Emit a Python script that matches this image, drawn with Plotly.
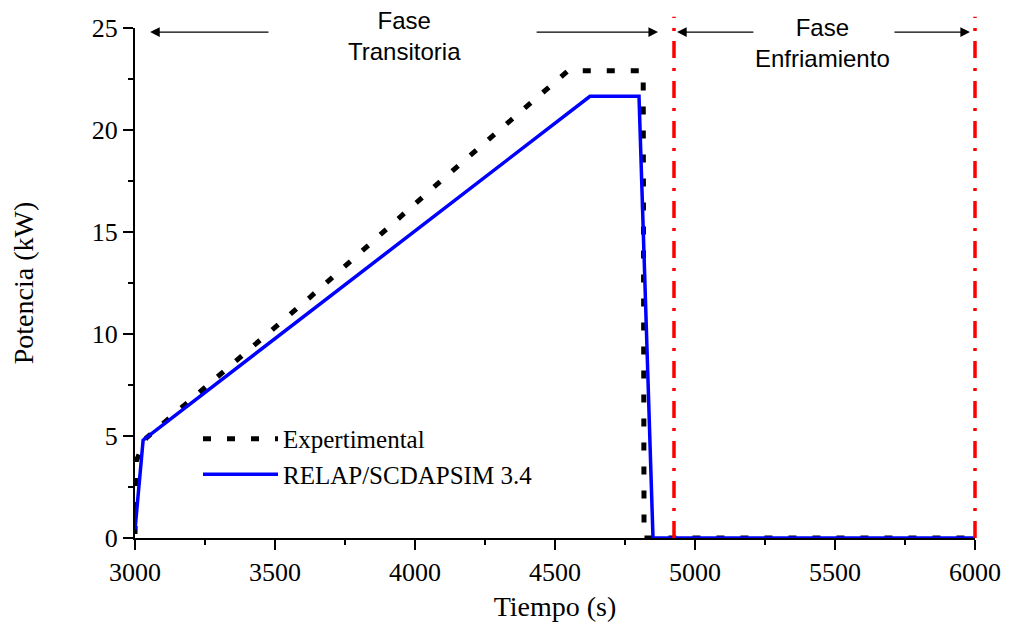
import plotly.graph_objects as go

# Data
exp_t = [3000, 3005, 3040, 3300, 3625, 4100, 4546, 4815, 4818, 6000]
exp_p = [0.2, 3.8, 4.9, 8.0, 11.8, 17.6, 22.9, 22.9, 0.0, 0.0]

sim_t = [3000, 3029, 4625, 4800, 4850, 6000]
sim_p = [0.4, 4.8, 21.65, 21.65, 0.0, 0.0]

phase_bounds = [4925, 6000]

x_ticks = [3000, 3500, 4000, 4500, 5000, 5500, 6000]
y_ticks = [0, 5, 10, 15, 20, 25]
x_range = [3000, 6000]
y_range = [0, 25]

SERIF = "Liberation Serif"
SANS = "Liberation Sans"

fig = go.Figure()
fig.add_trace(go.Scatter(
    x=exp_t, y=exp_p, mode="lines", name="Expertimental",
    line=dict(color="black", width=5, dash="8px,16px"),
))
fig.add_trace(go.Scatter(
    x=sim_t, y=sim_p, mode="lines", name="RELAP/SCDAPSIM 3.4",
    line=dict(color="#0000ff", width=3.5),
))

# Phase boundary lines (paper-referenced so they are not clipped at the axis end)
for xb in phase_bounds:
    xp = (xb - x_range[0]) / (x_range[1] - x_range[0])
    fig.add_shape(type="line", xref="paper", yref="paper", x0=xp, x1=xp,
                  y0=0, y1=1.022,
                  line=dict(color="#ff0000", width=3.5, dash="17px,10px,3px,10px"))

# Phase arrows (tail -> head)
arrows = [(3482, 3054), (4429, 4868), (5214, 4936), (5707, 5982)]
for tail, head in arrows:
    fig.add_annotation(x=head, y=24.8, ax=tail, ay=24.8, xref="x", yref="y",
                       axref="x", ayref="y", text="", showarrow=True,
                       arrowhead=2, arrowsize=1.6, arrowwidth=1.2,
                       arrowcolor="black")

fig.add_annotation(x=3961, y=0.985, xref="x", yref="paper",
                   text="Fase<br>Transitoria", showarrow=False,
                   font=dict(family=SANS, size=24, color="black"),
                   xanchor="center", yanchor="middle")
fig.add_annotation(x=5454, y=0.971, xref="x", yref="paper",
                   text="Fase<br>Enfriamiento", showarrow=False,
                   font=dict(family=SANS, size=24, color="black"),
                   xanchor="center", yanchor="middle")

axis_common = dict(
    showline=True, linewidth=2, linecolor="black", mirror=False,
    ticks="outside", ticklen=10, tickwidth=2, tickcolor="black",
    showgrid=False, zeroline=False,
    tickfont=dict(family=SERIF, size=26, color="black"),
)

fig.update_xaxes(range=x_range, tickvals=x_ticks,
                 minor=dict(ticks="outside", ticklen=5, tickwidth=2, tickcolor="black", dtick=250),
                 title=dict(text="Tiempo (s)", font=dict(family=SERIF, size=28, color="black"), standoff=10),
                 **axis_common)
fig.update_yaxes(range=y_range, tickvals=y_ticks,
                 minor=dict(ticks="outside", ticklen=5, tickwidth=2, tickcolor="black", dtick=2.5),
                 title=dict(text="Potencia (kW)", font=dict(family=SERIF, size=28, color="black"), standoff=52),
                 **axis_common)

# The page body adds an 8px offset, so the figure is sized to fit the window.
fig.update_layout(
    width=997, height=615,
    margin=dict(l=127, r=30, t=20, b=85, autoexpand=False),
    plot_bgcolor="white", paper_bgcolor="white",
    showlegend=True,
    legend=dict(x=0.075, y=0.16, xanchor="left", yanchor="middle",
                bgcolor="rgba(0,0,0,0)", itemwidth=75,
                font=dict(family=SERIF, size=25, color="black"),
                tracegroupgap=0),
)

fig.write_html("out.html")
